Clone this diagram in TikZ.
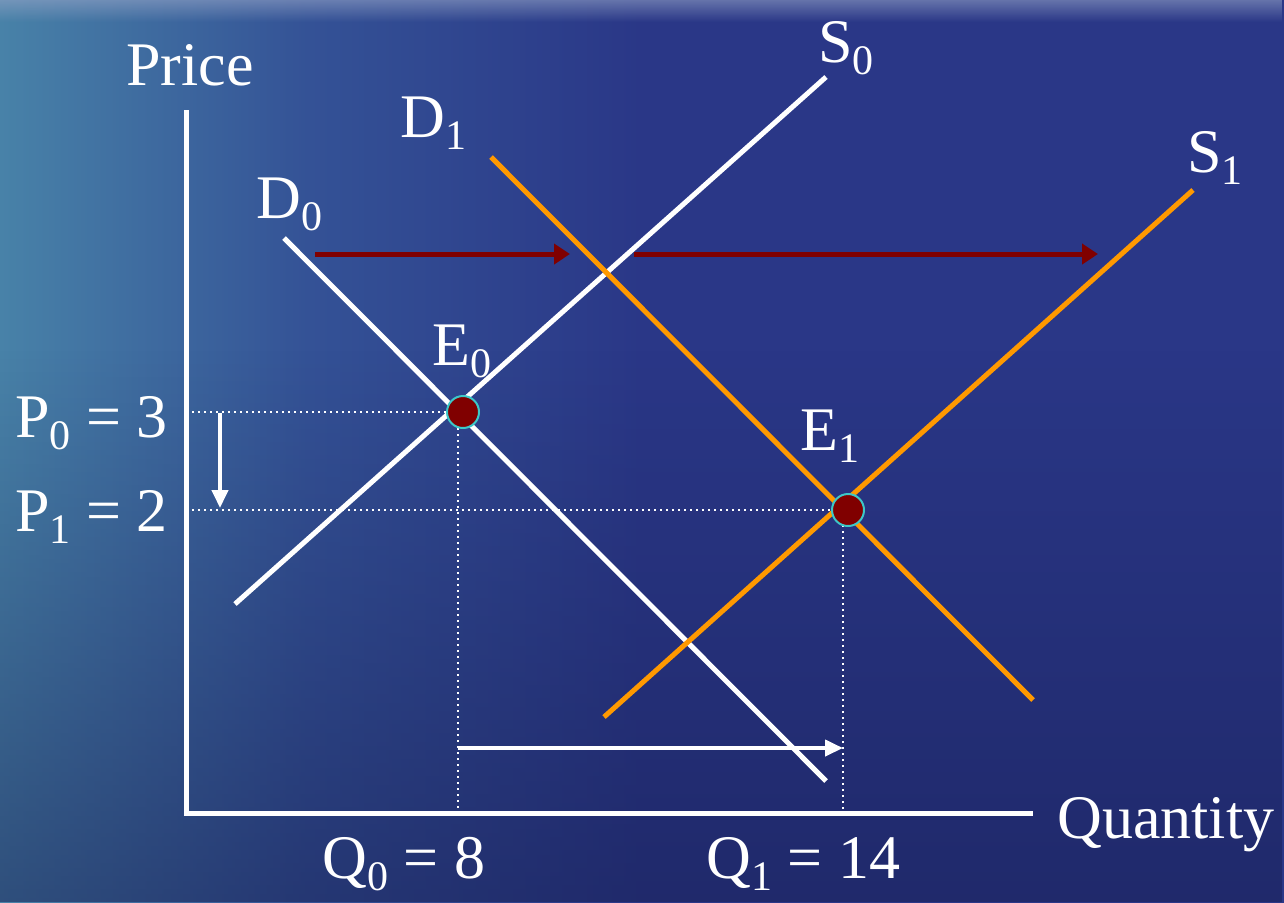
\documentclass[tikz,border=0pt]{standalone}
\usepackage{fontspec}
\setmainfont{Liberation Serif}
\usetikzlibrary{arrows.meta,fadings}
\definecolor{seaL}{RGB}{72,130,168}
\definecolor{seaM}{RGB}{52,82,150}
\definecolor{seaR}{RGB}{42,55,135}
\definecolor{seaTop}{RGB}{150,165,200}
\definecolor{seaDark}{RGB}{22,28,80}
\definecolor{supplyOrange}{RGB}{255,153,0}
\definecolor{shiftRed}{RGB}{128,0,0}
\definecolor{ringCyan}{RGB}{60,200,200}
\pgfdeclarehorizontalshading{sea}{100bp}{color(0bp)=(seaL); color(25bp)=(seaL); color(37bp)=(seaM); color(50bp)=(seaR); color(100bp)=(seaR)}
\newcommand\lowsub[1]{\raisebox{-6pt}{\fontsize{21}{24}\selectfont #1}}
\tikzset{
  lbl/.style={text=white, font=\fontsize{31}{36}\selectfont, inner sep=0pt, anchor=base west},
  axisline/.style={white, line width=2.5pt},
  curveW/.style={white, line width=2.5pt},
  curveO/.style={supplyOrange, line width=2.5pt},
  guide/.style={white, line width=1pt, dash pattern=on 1pt off 2pt},
  shiftarrow/.style={shiftRed, line width=2.5pt, -{Triangle[length=8pt,width=10pt]}},
  movearrow/.style={white, line width=2pt, -{Triangle[length=9pt,width=8pt]}},
  eqpt/.style={circle, fill=shiftRed, draw=ringCyan, line width=1pt, minimum size=16pt, inner sep=0pt},
}
\begin{document}
\begin{tikzpicture}[x=0.5pt,y=-0.5pt]
\useasboundingbox (0,0) rectangle (1284,902);
% background
\shade[shading=sea] (0,0) rectangle (1284,902);
\fill[seaDark, path fading=north, opacity=0.5] (0,350) rectangle (1284,902);
\fill[seaTop, path fading=south, opacity=0.55] (0,0) rectangle (1284,22);

% coordinates
\coordinate (Ytop) at (186,110);
\coordinate (O) at (186,813);
\coordinate (Xend) at (1033,813);
\coordinate (S0a) at (235,604);
\coordinate (S0b) at (826,77);
\coordinate (D0a) at (284,238);
\coordinate (D0b) at (826,781);
\coordinate (D1a) at (491,157);
\coordinate (D1b) at (1033,700);
\coordinate (S1a) at (604,717);
\coordinate (S1b) at (1193,190);
\coordinate (P0y) at (186,412);
\coordinate (P1y) at (186,510);
\coordinate (Q0x) at (458,813);
\coordinate (Q1x) at (843,813);
\coordinate (Q0top) at (458,412);
\coordinate (Q1top) at (843,510);
\coordinate (DownA) at (220,413);
\coordinate (DownB) at (220,508);
\coordinate (R1a) at (315,254);
\coordinate (R1b) at (570,254);
\coordinate (R2a) at (634,254);
\coordinate (R2b) at (1098,254);
\coordinate (WA) at (458,748);
\coordinate (WB) at (843,748);

% axes
\draw[axisline] (Ytop) -- (O) -- (Xend);

% guides
\draw[guide] (P0y) -- (Q0top) -- (Q0x);
\draw[guide] (P1y) -- (Q1top) -- (Q1x);

% curves
\draw[curveW] (S0a) -- (S0b);
\draw[curveW] (D0a) -- (D0b);
\draw[curveO] (D1a) -- (D1b);
\draw[curveO] (S1a) -- (S1b);

% arrows
\draw[shiftarrow] (R1a) -- (R1b);
\draw[shiftarrow] (R2a) -- (R2b);
\draw[movearrow] (DownA) -- (DownB);
\draw[movearrow] (WA) -- (WB);

% equilibrium points
\node[eqpt] (E0) at (463,412) {};
\node[eqpt] (E1) at (848,510) {};

% labels
\node[lbl] (price) at (126,85) {Price};
\node[lbl] (quantity) at (1057,838) {Quantity};
\node[lbl] (lS0) at (818,62) {S\lowsub{0}};
\node[lbl] (lD1) at (400,137) {D\lowsub{1}};
\node[lbl] (lS1) at (1187,172) {S\lowsub{1}};
\node[lbl] (lD0) at (256,218) {D\lowsub{0}};
\node[lbl] (lE0) at (432,365) {E\lowsub{0}};
\node[lbl] (lE1) at (800,450) {E\lowsub{1}};
\node[lbl] (lP0) at (15,437) {P\lowsub{0} = 3};
\node[lbl] (lP1) at (15,531) {P\lowsub{1} = 2};
\node[lbl] (lQ0) at (322,878) {Q\lowsub{0} = 8};
\node[lbl] (lQ1) at (706,878) {Q\lowsub{1} = 14};
\end{tikzpicture}
\end{document}
